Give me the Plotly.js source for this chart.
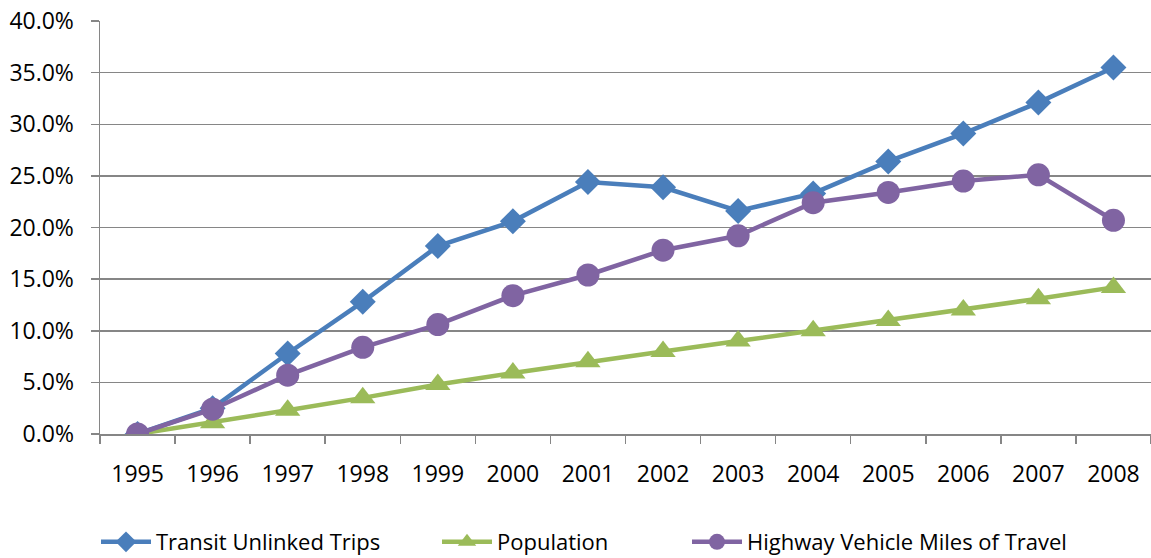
<!DOCTYPE html>
<html>
<head>
<meta charset="utf-8">
<script src="https://cdn.plot.ly/plotly-3.0.1.min.js"></script>
<style>html,body{margin:0;padding:0;background:#fff;}#chart{width:1151px;height:558px;}</style>
</head>
<body>
<div id="chart"></div>
<script>
const years = ["1995","1996","1997","1998","1999","2000","2001","2002","2003","2004","2005","2006","2007","2008"];
const transitTrips = [0.0, 2.5, 7.8, 12.8, 18.2, 20.6, 24.4, 23.9, 21.6, 23.3, 26.4, 29.1, 32.1, 35.5];
const population = [0.0, 1.1, 2.3, 3.5, 4.8, 5.9, 7.0, 8.0, 9.0, 10.0, 11.0, 12.0, 13.1, 14.2];
const highwayVMT = [0.0, 2.4, 5.7, 8.4, 10.6, 13.4, 15.4, 17.8, 19.2, 22.4, 23.4, 24.5, 25.1, 20.7];
const yTicks = [0,5,10,15,20,25,30,35,40];
const yTickText = ["0.0%","5.0%","10.0%","15.0%","20.0%","25.0%","30.0%","35.0%","40.0%"];

const font = "'Open Sans', 'Noto Sans', sans-serif";
const traces = [
  {x: years, y: transitTrips, name: "Transit Unlinked Trips", type: "scatter", mode: "lines+markers", legend: "legend",
   line: {color: "#4A7EBB", width: 4.5}, marker: {symbol: "diamond", size: 20, color: "#4A7EBB"}},
  {x: years, y: population, name: "Population", type: "scatter", mode: "lines+markers", legend: "legend2",
   line: {color: "#9BBB59", width: 4.5}, marker: {symbol: "triangle-up", size: 22, color: "#9BBB59"}},
  {x: years, y: highwayVMT, name: "Highway Vehicle Miles of Travel", type: "scatter", mode: "lines+markers", legend: "legend3",
   line: {color: "#8064A2", width: 4.5}, marker: {symbol: "circle", size: 23, color: "#8064A2"}}
];
function leg(px) {
  return {orientation: "h", x: px/1151, xref: "container", xanchor: "left",
          y: 16/558, yref: "container", yanchor: "middle",
          font: {family: font, size: 22, color: "#000"}, itemwidth: 50, bgcolor: "rgba(0,0,0,0)"};
}
const layout = {
  width: 1151, height: 558,
  margin: {l: 100, r: 0, t: 21, b: 124},
  paper_bgcolor: "#fff", plot_bgcolor: "#fff",
  font: {family: font, size: 23, color: "#000"},
  showlegend: true,
  legend: leg(96), legend2: leg(437), legend3: leg(687),
  xaxis: {type: "category", range: [-0.5, 13.5], showgrid: false, showline: true,
          linecolor: "#868686", linewidth: 1.5, ticks: "outside", tickson: "boundaries",
          ticklen: 8, tickcolor: "#868686", tickwidth: 1.5, ticklabelstandoff: 19,
          tickfont: {family: font, size: 23, color: "#000"}},
  yaxis: {range: [0, 40], tickvals: yTicks, ticktext: yTickText, showgrid: true,
          gridcolor: "#868686", gridwidth: 1.5, showline: true, linecolor: "#868686", linewidth: 1.5,
          ticks: "outside", ticklen: 8, tickcolor: "#868686", tickwidth: 1.5, zeroline: false,
          ticklabelstandoff: 12, tickfont: {family: font, size: 23, color: "#000"}}
};
Plotly.newPlot("chart", traces, layout, {displayModeBar: false, staticPlot: true});
</script>
</body>
</html>
